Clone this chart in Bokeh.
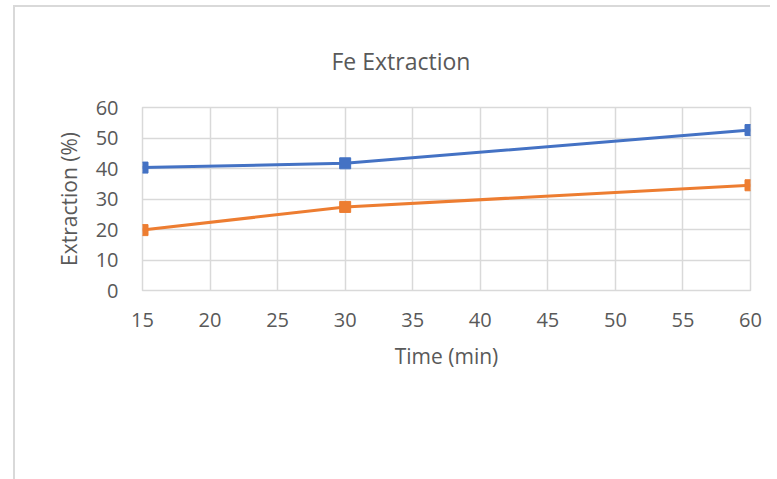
from bokeh.plotting import figure
from bokeh.models import ColumnDataSource, Legend, LegendItem, Title, FixedTicker
from bokeh.embed import file_html
from bokeh.resources import INLINE

time_min = [15, 30, 60]
hy10563 = [40.3, 41.7, 52.6]
hy10564 = [19.8, 27.4, 34.5]
series_names = ["HY10563", "HY10564"]
x_ticks = [15, 20, 25, 30, 35, 40, 45, 50, 55, 60]
y_ticks = [0, 10, 20, 30, 40, 50, 60]

FONT = "Open Sans"
TXT = "#595959"
GRID = "#d9d9d9"

p = figure(frame_width=608, frame_height=183, output_backend="svg", toolbar_location=None,
           x_range=(15, 60), y_range=(0, 60),
           min_border_left=127, min_border_right=20, min_border_top=100, min_border_bottom=0)
p.styles = {"margin-left": "13px", "margin-top": "5px",
            "border-left": "2px solid #d9d9d9", "border-top": "2px solid #d9d9d9"}

src = ColumnDataSource(dict(x=time_min, a=hy10563, b=hy10564))
la = p.line("x", "a", source=src, line_color="#4472C4", line_width=3)
ma = p.scatter("x", "a", source=src, marker="square", size=11, fill_color="#4472C4", line_color="#4472C4")
lb = p.line("x", "b", source=src, line_color="#ED7D31", line_width=3)
mb = p.scatter("x", "b", source=src, marker="square", size=11, fill_color="#ED7D31", line_color="#ED7D31")

p.xaxis.ticker = FixedTicker(ticks=x_ticks)
p.yaxis.ticker = FixedTicker(ticks=y_ticks)
for ax in (p.xaxis[0], p.yaxis[0]):
    ax.major_tick_line_color = None
    ax.minor_tick_line_color = None
    ax.major_tick_out = 0
    ax.major_tick_in = 0
    ax.axis_line_color = None
    ax.major_label_text_font = FONT
    ax.major_label_text_font_size = "20px"
    ax.major_label_text_color = TXT
    ax.axis_label_text_font = FONT
    ax.axis_label_text_font_size = "21px"
    ax.axis_label_text_font_style = "normal"
    ax.axis_label_text_color = TXT
p.xaxis.axis_label = "Time (min)"
p.yaxis.axis_label = "Extraction (%)"
p.xaxis.major_label_standoff = 22
p.xaxis.axis_label_standoff = 12
p.yaxis.major_label_standoff = 24
p.yaxis.axis_label_standoff = 10

p.xgrid.grid_line_color = GRID
p.ygrid.grid_line_color = GRID
p.xgrid.grid_line_width = 1.5
p.ygrid.grid_line_width = 1.5
p.outline_line_color = GRID
p.outline_line_width = 1.5

t = Title(text="Fe Extraction", align="left", offset=189, standoff=62,
          text_font=FONT, text_font_size="23px", text_font_style="normal", text_color=TXT)
p.add_layout(t, "above")

legend = Legend(items=[LegendItem(label=series_names[0], renderers=[la, ma]),
                       LegendItem(label=series_names[1], renderers=[lb, mb])],
                orientation="horizontal", location="top_left",
                title=" ", title_location="left", title_standoff=58,
                title_text_font_size="13px",
                glyph_width=69, glyph_height=26, label_standoff=5, spacing=31,
                padding=0, margin=34, border_line_color=None, background_fill_alpha=0,
                label_text_font=FONT, label_text_font_size="20px", label_text_color=TXT)
p.add_layout(legend, "below")

open("out.html", "w").write(file_html(p, INLINE))
